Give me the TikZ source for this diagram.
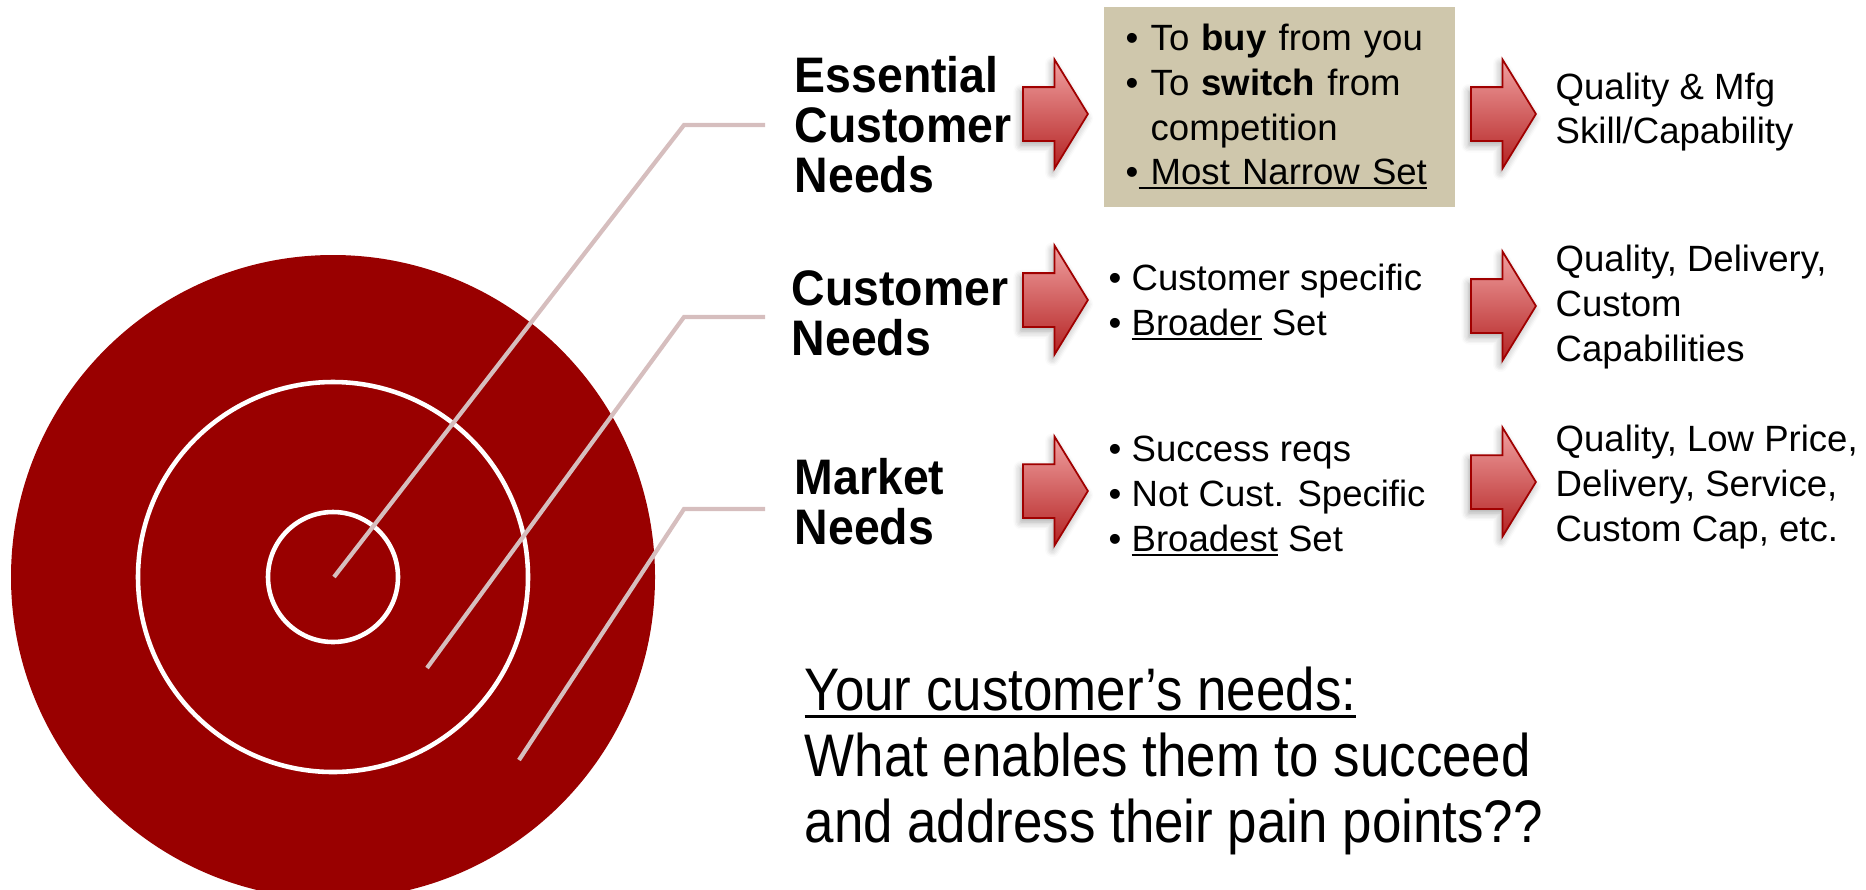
\documentclass[tikz,border=0pt]{standalone}
\usepackage{fontspec}
\setmainfont{Liberation Sans}
\newfontfamily\headfont[FakeStretch=0.93]{Liberation Sans}
\newfontfamily\askfont[FakeStretch=0.88]{Liberation Sans}
\usetikzlibrary{shapes.arrows, shadows.blur}

\definecolor{bullred}{RGB}{153,0,0}
\definecolor{leadgray}{RGB}{214,190,190}
\definecolor{sandbox}{RGB}{207,199,172}
\definecolor{arrowtop}{RGB}{240,160,160}
\definecolor{arrowbot}{RGB}{180,35,35}
\definecolor{arrowline}{RGB}{160,0,0}

% underline sitting close to the baseline
\newcommand{\undl}[1]{\leavevmode\setbox0\hbox{#1}\rlap{\rule[-0.12em]{\wd0}{0.05em}}\box0\relax}

\begin{document}
\begin{tikzpicture}[
    head/.style={anchor=west, inner sep=0pt, align=left,
        font=\headfont\bfseries\fontsize{14.2}{14.2}\selectfont},
    list/.style={anchor=west, inner sep=0pt, align=left,
        font=\fontsize{10.4}{12.7}\selectfont},
    push/.style={
        single arrow, draw=arrowline, line width=0.5pt,
        top color=arrowtop, bottom color=arrowbot,
        minimum height=0.65cm, inner xsep=0pt, inner ysep=0.26cm,
        single arrow head extend=0.275cm, single arrow tip angle=117,
        anchor=tail,
        blur shadow={shadow xshift=-0.6pt, shadow yshift=-1.2pt, shadow blur steps=6, shadow opacity=35}
    },
    leader/.style={draw=leadgray, line width=1.2pt},
    ring/.style={draw=white, line width=1.3pt}
]
\useasboundingbox (0,0) rectangle (18.66,-8.89);

%%%%%%%%%%%%%%%%%%%%%
% Target
%%%%%%%%%%%%%%%%%%%%%
\begin{scope}
    \clip (0,0) rectangle (18.66,-8.89);
    \fill[bullred] (3.33,-5.77) circle (3.22);
    \draw[ring] (3.33,-5.77) circle (1.95);
    \draw[ring] (3.33,-5.77) circle (0.65);
\end{scope}

\coordinate (core) at (3.34,-5.77);
\coordinate (midring) at (4.27,-6.68);
\coordinate (outring) at (5.19,-7.60);
\coordinate (tag1) at (7.65,-1.25);
\coordinate (tag2) at (7.65,-3.17);
\coordinate (tag3) at (7.65,-5.09);

\draw[leader] (core) -- (6.84,-1.25) -- (tag1);
\draw[leader] (midring) -- (6.84,-3.17) -- (tag2);
\draw[leader] (outring) -- (6.84,-5.09) -- (tag3);

%%%%%%%%%%%%%%%%%%%%%
% Needs
%%%%%%%%%%%%%%%%%%%%%
\node[head] (ess) at (7.94,-1.25) {Essential\\Customer\\Needs};
\node[head] (cust) at (7.91,-3.13) {Customer\\Needs};
\node[head] (mkt) at (7.94,-5.02) {Market\\Needs};

\node[push] (essto) at (10.22,-1.14) {};
\node[push] (custto) at (10.22,-3.00) {};
\node[push] (mktto) at (10.22,-4.91) {};

\node[list, fill=sandbox, anchor=north west, minimum width=3.51cm, minimum height=2cm,
      inner xsep=0.22cm, text width=3.07cm] (narrow) at (11.03,-0.06)
    {\textbullet\ To \textbf{buy} from you\\
     \textbullet\ To \textbf{switch} from\\
     \phantom{\textbullet\ }competition\\
     \textbullet\undl{\ Most Narrow Set}};
\node[list] (broader) at (11.08,-3.02)
    {\textbullet\ Customer specific\\
     \textbullet\ \undl{Broader} Set};
\node[list] (broadest) at (11.08,-4.96)
    {\textbullet\ Success reqs\\
     \textbullet\ Not Cust. Specific\\
     \textbullet\ \undl{Broadest} Set};

\node[push] (narrowto) at (14.70,-1.14) {};
\node[push] (broaderto) at (14.70,-3.06) {};
\node[push] (broadestto) at (14.70,-4.82) {};

\node[list] (eskill) at (15.55,-1.12) {Quality \& Mfg\\Skill/Capability};
\node[list] (cdeliv) at (15.55,-3.07) {Quality, Delivery,\\Custom\\Capabilities};
\node[list] (mprice) at (15.55,-4.87) {Quality, Low Price,\\Delivery, Service,\\Custom Cap, etc.};

% question at the bottom
\node[anchor=west, inner sep=0pt, align=left,
      font=\askfont\fontsize{17.1}{18.8}\selectfont] (ask) at (8.04,-7.61)
    {\undl{Your customer’s needs:}\\
     What enables them to succeed\\
     and address their pain points??};

\end{tikzpicture}
\end{document}
